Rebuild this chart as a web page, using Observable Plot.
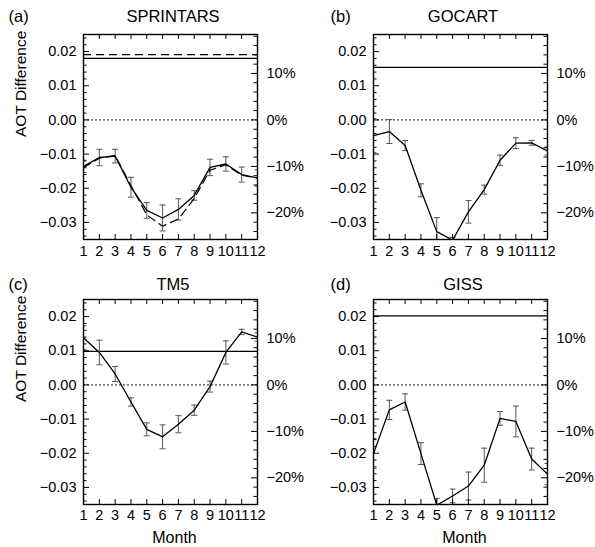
<!DOCTYPE html>
<html><head><meta charset="utf-8">
<script src="https://cdn.jsdelivr.net/npm/d3@7"></script>
<script src="https://cdn.jsdelivr.net/npm/@observablehq/plot@0.6"></script>
<style>
body{margin:0;background:#fff;}
#fig{position:relative;width:595px;height:547px;overflow:hidden;background:#fff;}
.panel{position:absolute;}
</style></head><body><div id="fig"></div>
<script>
// ---- data ----
const months = [1,2,3,4,5,6,7,8,9,10,11,12];
const monthLabels = ["1","2","3","4","5","6","7","8","9","10","11","12"];
const yTickValues = [0.02,0.01,0.00,-0.01,-0.02,-0.03];
const yTickLabels = ["0.02","0.01","0.00","\u22120.01","\u22120.02","\u22120.03"];
const yMinorTicks = [-0.034,-0.032,-0.03,-0.028,-0.026,-0.024,-0.022,-0.02,-0.018,-0.016,-0.014,-0.012,-0.01,-0.008,-0.006,-0.004,-0.002,0,0.002,0.004,0.006,0.008,0.01,0.012,0.014,0.016,0.018,0.02,0.022,0.024];
const pctTickValues = [10,0,-10,-20];
const pctTickLabels = ["10%","0%","\u221210%","\u221220%"];
const pctMinorTicks = [-24,-22,-20,-18,-16,-14,-12,-10,-8,-6,-4,-2,0,2,4,6,8,10,12,14,16,18];
const aotPerPercent = 0.00136;

const sprintarsValues = [-0.0136,-0.0110,-0.0106,-0.0197,-0.0265,-0.0287,-0.0262,-0.0221,-0.0139,-0.0129,-0.0160,-0.0170];
const sprintarsErrors = [0.0018,0.0024,0.0020,0.0029,0.0023,0.0038,0.0031,0.0014,0.0024,0.0021,0.0022,0.0024];
const sprintarsDashed = [-0.0140,-0.0112,-0.0104,-0.0192,-0.0278,-0.0311,-0.0290,-0.0230,-0.0147,-0.0131,-0.0162,-0.0170];
const sprintarsRef = 0.0180;
const sprintarsRefDashed = 0.0191;

const gocartValues = [-0.0046,-0.0034,-0.0075,-0.0206,-0.0327,-0.0352,-0.0269,-0.0204,-0.0118,-0.0068,-0.0067,-0.0091];
const gocartErrors = [0.0050,0.0035,0.0015,0.0019,0.0041,0.0008,0.0033,0.0013,0.0015,0.0016,0.0007,0.0012];
const gocartRef = 0.0154;

const tm5Values = [0.0138,0.0095,0.0032,-0.0050,-0.0130,-0.0152,-0.0115,-0.0074,-0.0005,0.0095,0.0155,0.0140];
const tm5Errors = [0.0035,0.0036,0.0022,0.0012,0.0019,0.0035,0.0025,0.0015,0.0016,0.0034,0.0008,0.0012];
const tm5Ref = 0.0098;

const gissValues = [-0.0201,-0.0073,-0.0050,-0.0201,-0.0352,-0.0325,-0.0296,-0.0235,-0.0098,-0.0107,-0.0217,-0.0261];
const gissErrors = [0.0044,0.0028,0.0024,0.0032,0.0020,0.0020,0.0041,0.0050,0.0020,0.0045,0.0032,0.0031];
const gissRef = 0.0202;

// ---- drawing ----
const FONT = "'Liberation Sans', Arial, Helvetica, sans-serif";
const capSymbol = {draw(ctx){ ctx.moveTo(-3,0); ctx.lineTo(3,0); }};

function makePanel(cfg) {
  const innerW = cfg.width - cfg.ml - cfg.mr;
  const innerH = cfg.height - cfg.mt - cfg.mb;
  const rows = months.map((m,i)=>({month:m, value:cfg.values[i], lo:cfg.values[i]-cfg.errors[i], hi:cfg.values[i]+cfg.errors[i]}));
  const yMajorSet = new Set(yTickValues.map(v=>v.toFixed(3)));
  const yMinorOnly = yMinorTicks.filter(v=>!yMajorSet.has(v.toFixed(3)));
  const pctMinorOnly = pctMinorTicks.filter(p=>p%10!==0);
  const marks = [
    Plot.ruleY([0], {stroke:"black", strokeWidth:0.9, strokeDasharray:"2,2"}),
  ];
  if (cfg.refDashed != null) marks.push(Plot.ruleY([cfg.refDashed], {stroke:"black", strokeWidth:1.2, strokeDasharray:"8,5"}));
  marks.push(Plot.ruleY([cfg.ref], {stroke:"black", strokeWidth:1.3}));
  marks.push(
    Plot.ruleX(rows, {x:"month", y1:"lo", y2:"hi", stroke:"#555", strokeWidth:1, clip:true}),
    Plot.dot(rows, {x:"month", y:"lo", symbol:capSymbol, fill:"none", stroke:"#555", strokeWidth:1, clip:true}),
    Plot.dot(rows, {x:"month", y:"hi", symbol:capSymbol, fill:"none", stroke:"#555", strokeWidth:1, clip:true})
  );
  if (cfg.dashed) {
    const drows = months.map((m,i)=>({month:m, value:cfg.dashed[i]}));
    marks.push(Plot.line(drows, {x:"month", y:"value", stroke:"black", strokeWidth:1.2, strokeDasharray:"8,5", clip:true}));
  }
  marks.push(
    Plot.line(rows, {x:"month", y:"value", stroke:"black", strokeWidth:1.3, clip:true}),
    // inward ticks
    Plot.tickY(yTickValues, {y:d=>d, insetRight:innerW-6, stroke:"black"}),
    Plot.tickY(yMinorOnly, {y:d=>d, insetRight:innerW-3.5, stroke:"black"}),
    Plot.tickY(pctTickValues.map(p=>p*aotPerPercent), {y:d=>d, insetLeft:innerW-6, stroke:"black"}),
    Plot.tickY(pctMinorOnly.map(p=>p*aotPerPercent), {y:d=>d, insetLeft:innerW-3.5, stroke:"black"}),
    Plot.tickX(months, {x:d=>d, insetTop:innerH-5, stroke:"black"}),
    Plot.tickX(months, {x:d=>d, insetBottom:innerH-5, stroke:"black"}),
    Plot.frame({stroke:"black", strokeWidth:1.4}),
    // tick labels
    Plot.text(yTickValues, {y:d=>d, text:(d,i)=>yTickLabels[i], frameAnchor:"left", dx:-7, textAnchor:"end", fontSize:14.5, fill:"black"}),
    Plot.text(pctTickValues, {y:d=>d*aotPerPercent, text:(d,i)=>pctTickLabels[i], frameAnchor:"right", dx:9, textAnchor:"start", fontSize:14.5, fill:"black"}),
    Plot.text(months, {x:d=>d, text:(d,i)=>monthLabels[i], frameAnchor:"bottom", dy:cfg.monthDy, lineAnchor:"middle", fontSize:14.5, fill:"black"}),
    // titles
    Plot.text([cfg.letter], {frameAnchor:"top-left", dx:cfg.letterDx, dy:cfg.titleDy, textAnchor:"start", lineAnchor:"middle", fontSize:16.5, fill:"black"}),
    Plot.text([cfg.name], {frameAnchor:"top", dx:2.5, dy:cfg.titleDy, lineAnchor:"middle", fontSize:16.5, fill:"black"})
  );
  if (cfg.yLabel) marks.push(Plot.text([cfg.yLabel], {frameAnchor:"left", dx:-62, rotate:-90, lineAnchor:"middle", fontSize:15.5, fill:"black"}));
  if (cfg.xLabel) marks.push(Plot.text([cfg.xLabel], {frameAnchor:"bottom", dx:4, dy:33, lineAnchor:"middle", fontSize:16, fill:"black"}));
  const svg = Plot.plot({
    width: cfg.width, height: cfg.height,
    marginLeft: cfg.ml, marginRight: cfg.mr, marginTop: cfg.mt, marginBottom: cfg.mb,
    x: {domain:[1,12], axis:null},
    y: {domain:[-0.035,0.025], axis:null},
    style: {fontFamily: FONT, background:"transparent", overflow:"visible"},
    marks
  });
  const wrap = document.createElement("div");
  wrap.className = "panel";
  wrap.style.left = cfg.left + "px";
  wrap.style.top = cfg.top + "px";
  wrap.appendChild(svg);
  document.getElementById("fig").appendChild(wrap);
}

const topRow = {top:0, height:270, mt:34, mb:31, titleDy:-17.5, monthDy:12};
const botRow = {top:265, height:282, mt:34, mb:43, titleDy:-14.5, monthDy:11};
const leftCol = {left:0, width:310, ml:83, mr:53, letterDx:-75};
const rightCol = {left:290, width:305, ml:83, mr:48, letterDx:-43};

makePanel({...topRow, ...leftCol, letter:"(a)", name:"SPRINTARS", values:sprintarsValues, errors:sprintarsErrors, dashed:sprintarsDashed, ref:sprintarsRef, refDashed:sprintarsRefDashed, yLabel:"AOT Difference"});
makePanel({...topRow, ...rightCol, letter:"(b)", name:"GOCART", values:gocartValues, errors:gocartErrors, ref:gocartRef});
makePanel({...botRow, ...leftCol, letter:"(c)", name:"TM5", values:tm5Values, errors:tm5Errors, ref:tm5Ref, yLabel:"AOT Difference", xLabel:"Month"});
makePanel({...botRow, ...rightCol, letter:"(d)", name:"GISS", values:gissValues, errors:gissErrors, ref:gissRef, xLabel:"Month"});
</script></body></html>
